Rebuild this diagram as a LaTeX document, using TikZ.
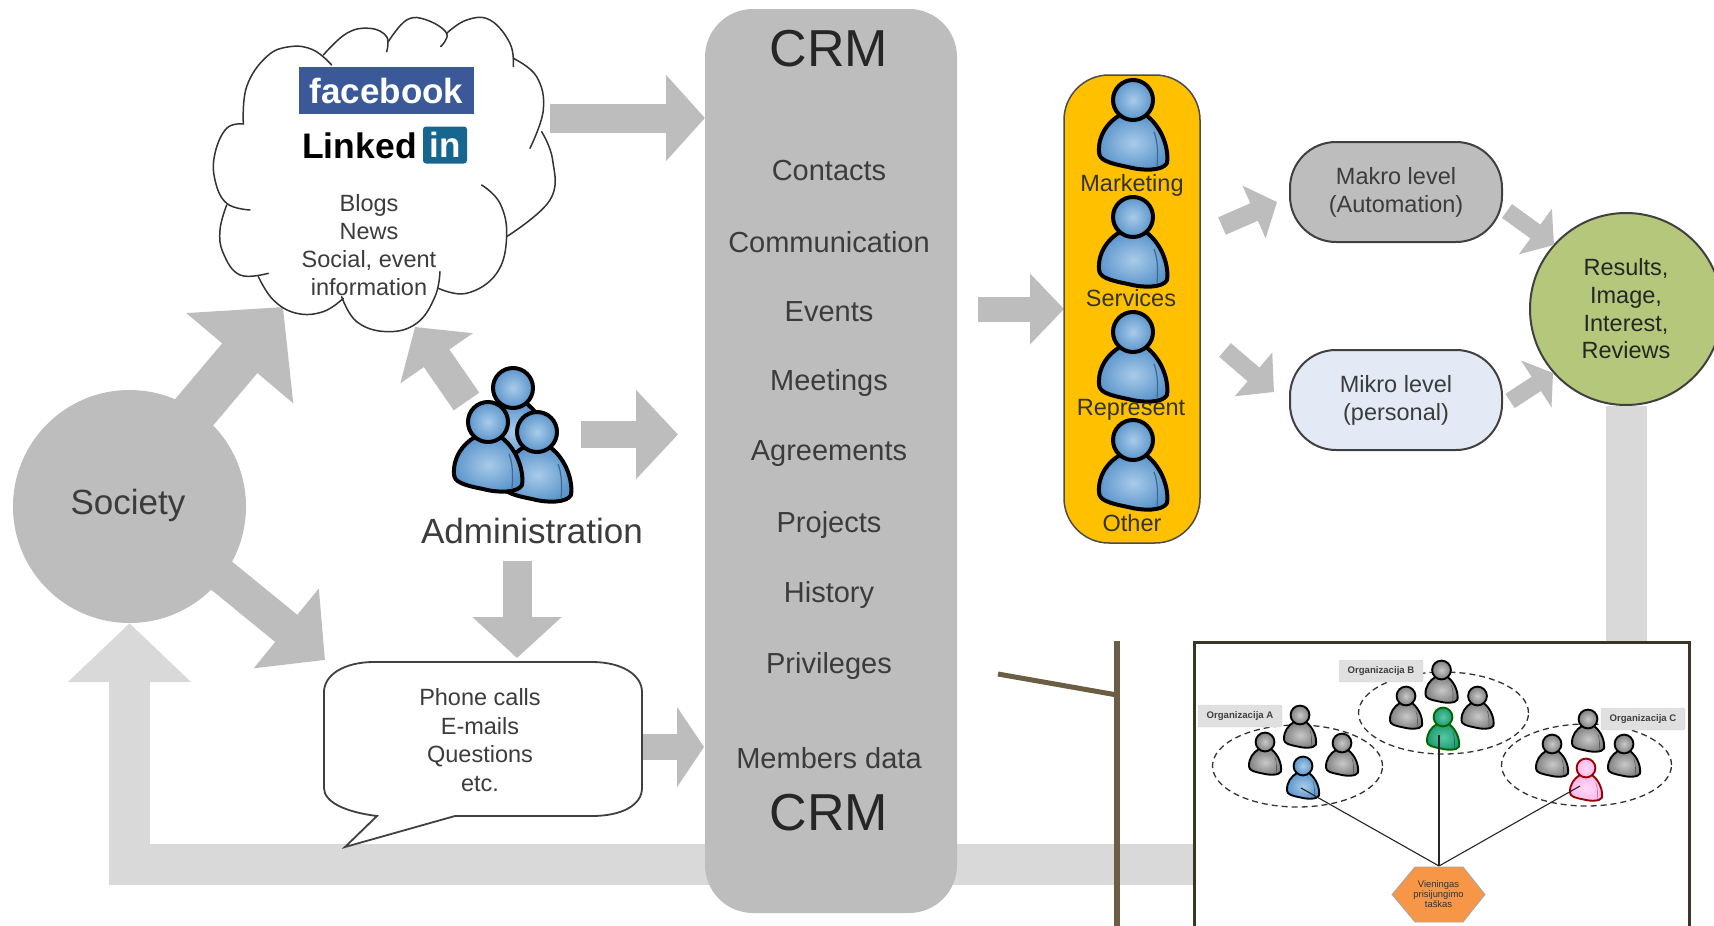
\documentclass[tikz,border=0pt]{standalone}
\usepackage{fontspec}
\setmainfont{Liberation Sans}
\usetikzlibrary{arrows.meta,shapes.geometric}
\definecolor{blockgray}{HTML}{BDBDBD}
\definecolor{bandgray}{HTML}{D9D9D9}
\definecolor{inktext}{HTML}{3C3C3C}
\definecolor{polebrown}{HTML}{6B5E45}
\definecolor{framedark}{HTML}{3A3528}
\definecolor{goldbox}{HTML}{FFC000}
\definecolor{resgreen}{HTML}{B5C77A}
\definecolor{mikroblue}{HTML}{E3EAF6}
\definecolor{fbblue}{HTML}{3B5998}
\definecolor{liblue}{HTML}{17668F}
\definecolor{bluelight}{HTML}{A9CBE9}
\definecolor{bluedark}{HTML}{5B95CC}
\definecolor{graylight}{HTML}{C9C9C9}
\definecolor{graydark}{HTML}{808080}
\definecolor{greenlight}{HTML}{55C9A5}
\definecolor{greendark}{HTML}{1F9A70}
\definecolor{pinklight}{HTML}{FFD9F7}
\definecolor{pinkdark}{HTML}{FBB8EC}
\definecolor{hexorange}{HTML}{F79646}
\tikzset{
  lbl/.style={inner sep=0pt,align=center,text=inktext,font=\fontsize{23.5}{28}\selectfont},
  crmitem/.style={inner sep=0pt,text=inktext,font=\fontsize{29}{29}\selectfont},
  crmtitle/.style={inner sep=0pt,text=black!85,font=\fontsize{52}{52}\selectfont},
  biglbl/.style={inner sep=0pt,text=inktext,font=\fontsize{35}{35}\selectfont},
  pillbox/.style={draw=black!75,line width=2pt,rounded corners=46pt,minimum width=212pt,minimum height=100pt,inner sep=0pt},
  cloudline/.style={draw=black!80,line width=1.5pt,line cap=round},
  orgring/.style={draw=black!80,line width=1.3pt,dash pattern=on 6pt off 4pt,ellipse,minimum width=170pt,minimum height=82pt,inner sep=0pt},
  orgtag/.style={fill=black!12,draw=black!30,densely dotted,rounded corners=2pt,minimum width=84pt,minimum height=22pt,inner sep=0pt,text=black!75,font=\bfseries\fontsize{9.6}{10}\selectfont},
  wire/.style={draw=black!85,line width=1.1pt},
}
\newcommand{\blockarrow}[6][blockgray]{\draw[#1,line width=#2pt,-{Triangle[length=#3pt,width=#4pt]}] (#5) -- (#6);}
% x, y (head centre), scale, light, dark, outline
\newcommand{\psn}[6]{%
  \begin{scope}[shift={(#1,#2)},scale=#3]
    \path[draw=#6,line width=#3*4pt,line join=round,inner color=#4,outer color=#5]
      (-13,15) .. controls (-25,22) and (-35,35) .. (-34,52)
      .. controls (-34,60) and (-25,63) .. (-5,67)
      .. controls (10,71) and (30,71) .. (34,63)
      .. controls (36,50) and (30,28) .. (13,15) -- cycle;
    \draw[#5!70!black,line width=#3*1.2pt] (21,32) .. controls (25,42) and (25,55) .. (24,66);
    \path[draw=#6,line width=#3*4pt,inner color=#4,outer color=#5] (0,0) circle[radius=20];
  \end{scope}}
\begin{document}
\begin{tikzpicture}[x=1pt,y=-1pt]
\useasboundingbox (0,0) rectangle (1714,926);
\clip (0,0) rectangle (1714,926);
\fill[white] (0,0) rectangle (1714,926);

% --- main nodes
\node[circle,fill=blockgray,minimum size=233pt,inner sep=0pt] (soc) at (129.5,506.5) {};
\node[circle,draw=black!75,line width=2pt,fill=resgreen,minimum size=192pt,inner sep=0pt,align=center,text=black!85,font=\fontsize{23.5}{27.7}\selectfont] (res) at (1626,309) {Results,\\Image,\\Interest,\\Reviews};
\coordinate (socbase) at (129.5,864);

% --- return band
\draw[bandgray,line width=41pt,line join=miter,-{Triangle[length=59pt,width=120pt]}] (res.south) |- (socbase) -- (soc.south);
\node[biglbl] (soclabel) at (128,505) {Society};

% --- block arrows
\coordinate (cloudout) at (550,118);   \coordinate (crmin1) at (705,118);
\coordinate (socup) at (175,435);      \coordinate (cloudin1) at (283,307);
\coordinate (socdown) at (200,558);    \coordinate (bubblein) at (325,660);
\coordinate (admup) at (466.5,401.5);  \coordinate (cloudin2) at (415,327);
\coordinate (admright) at (581,434.5); \coordinate (crmin2) at (678,434.5);
\coordinate (admdown) at (517,561);    \coordinate (bubbletop) at (517,658);
\coordinate (bubbleout) at (642,747);  \coordinate (crmin3) at (704,747);
\coordinate (crmout) at (978,309);     \coordinate (goldin) at (1064,309);
\coordinate (goldoutA) at (1222,226);  \coordinate (makin) at (1277,202);
\coordinate (goldoutB) at (1225,350);  \coordinate (mikin) at (1274,392);
\coordinate (makout) at (1507,211);    \coordinate (resinA) at (1554,245);
\coordinate (mikout) at (1510,401);    \coordinate (resinB) at (1553,373);

\blockarrow{29}{39}{84}{cloudout}{crmin1}
\blockarrow{46}{67}{136}{socup}{cloudin1}
\blockarrow{35}{50}{100}{socdown}{bubblein}
\blockarrow{31}{38}{86}{admup}{cloudin2}
\blockarrow{27}{42}{87}{admright}{crmin2}
\blockarrow{29}{41}{87}{admdown}{bubbletop}
\blockarrow{26}{27}{79}{bubbleout}{crmin3}
\blockarrow{25}{34}{69}{crmout}{goldin}
\blockarrow{19}{25}{56}{goldoutA}{makin}
\blockarrow{18}{27}{56}{goldoutB}{mikin}
\blockarrow{17}{23}{55}{makout}{resinA}
\blockarrow{17}{20}{55}{mikout}{resinB}

% --- CRM column
\node[fill=blockgray,rounded corners=48pt,minimum width=252pt,minimum height=904pt,inner sep=0pt] (crm) at (831,461) {};
\node[crmtitle] (crmtop) at (829,49) {CRM};
\node[crmtitle] (crmbot) at (829,813) {CRM};
\node[crmitem] (i1) at (829,171) {Contacts};
\node[crmitem] (i2) at (829,242) {Communication};
\node[crmitem] (i3) at (829,312) {Events};
\node[crmitem] (i4) at (829,383) {Meetings};
\node[crmitem] (i5) at (829,454) {Agreements};
\node[crmitem] (i6) at (829,525) {Projects};
\node[crmitem] (i7) at (829,595) {History};
\node[crmitem] (i8) at (829,666) {Privileges};
\node[crmitem] (i9) at (829,758) {Members data};

% --- cloud
\begin{scope}[shift={(190,0)},x=0.3333pt,y=-0.3333pt]
\draw[cloudline] plot[smooth,tension=.7] coordinates {(160,372) (170,260) (230,170) (300,140) (370,150) (425,195)};
\draw[cloudline] plot[smooth,tension=.7] coordinates {(400,165) (470,100) (540,85) (590,110) (590,155)};
\draw[cloudline] plot[smooth,tension=.7] coordinates {(595,125) (650,60) (710,60) (770,100) (752,140)};
\draw[cloudline] plot[smooth,tension=.7] coordinates {(770,100) (830,60) (900,60) (960,130) (970,200)};
\draw[cloudline] plot[smooth,tension=.7] coordinates {(970,175) (1040,230) (1060,330) (1020,445)};
\draw[cloudline] plot[smooth,tension=.7] coordinates {(1055,395) (1088,480) (1080,600) (950,710)};
\draw[cloudline] plot[smooth,tension=.7] coordinates {(875,555) (930,610) (950,710) (920,820) (830,880) (745,865)};
\draw[cloudline] plot[smooth,tension=.7] coordinates {(750,815) (735,890) (680,970) (590,995) (500,965) (455,890)};
\draw[cloudline] plot[smooth,tension=.7] coordinates {(460,895) (400,935) (320,940) (250,900) (205,830)};
\draw[cloudline] plot[smooth,tension=.7] coordinates {(235,820) (150,825) (100,760) (90,690) (110,615)};
\draw[cloudline] plot[smooth,tension=.7] coordinates {(180,630) (110,610) (75,540) (75,460) (110,385) (160,372)};
\end{scope}
\node[fill=fbblue,minimum width=175pt,minimum height=47pt,inner sep=0pt,text=white,font=\bfseries\fontsize{35}{35}\selectfont] (fb) at (386.5,90.5) {facebook};
\node[inner sep=0pt,text=black,font=\bfseries\fontsize{35.5}{35}\selectfont] (li) at (359.5,146) {Linked};
\node[fill=liblue,rounded corners=3pt,minimum width=44pt,minimum height=37pt,inner sep=0pt,text=white,font=\bfseries\fontsize{35}{30}\selectfont] (libox) at (445,145) {in};
\node[lbl] (cloudtxt) at (369,245.5) {Blogs\\News\\Social, event\\information};

% --- administration
\psn{513}{388}{1}{bluelight}{bluedark}{black}
\psn{537}{432}{1}{bluelight}{bluedark}{black}
\psn{488}{422}{1}{bluelight}{bluedark}{black}
\node[biglbl] (adm) at (532,531) {Administration};

% --- speech bubble
\draw[fill=white,draw=black!75,line width=1.8pt]
  (374,662) -- (592,662) .. controls (622,662) and (642,675) .. (642,692)
  -- (642,788) .. controls (642,805) and (622,816) .. (592,816)
  -- (455,816) -- (345,847) -- (377,816)
  .. controls (345,812) and (324,802) .. (324,788)
  -- (324,692) .. controls (324,675) and (344,662) .. (374,662) -- cycle;
\node[lbl,font=\fontsize{23.5}{28.4}\selectfont] (bubble) at (480,740) {Phone calls\\E-mails\\Questions\\etc.};

% --- gold column
\node[fill=goldbox,draw=black!70,line width=1.5pt,rounded corners=45pt,minimum width=136pt,minimum height=468pt,inner sep=0pt] (gold) at (1132,309) {};
\psn{1133}{100}{1}{bluelight}{bluedark}{black}
\psn{1133}{217}{1}{bluelight}{bluedark}{black}
\psn{1133}{332}{1}{bluelight}{bluedark}{black}
\psn{1133}{440}{1}{bluelight}{bluedark}{black}
\node[lbl,text=black!80] (g1) at (1132,185) {Marketing};
\node[lbl,text=black!80] (g2) at (1131,298) {Services};
\node[lbl,text=black!80] (g3) at (1131,410) {Represent};
\node[lbl,text=black!80] (g4) at (1132,523) {Other};

% --- level boxes
\node[pillbox,fill=blockgray,lbl] (mak) at (1396,192) {Makro level\\(Automation)};
\node[pillbox,fill=mikroblue,lbl] (mik) at (1396,400) {Mikro level\\(personal)};

% --- pole
\coordinate (poletop) at (1117,641);
\coordinate (polebot) at (1117,926);
\coordinate (polejoin) at (1117,695);
\coordinate (poleend) at (998,674);
\draw[polebrown,line width=6pt] (poletop) -- (polebot);
\draw[polebrown,line width=5pt] (poleend) -- (polejoin);

% --- inset
\node[draw=framedark,fill=white,line width=3pt,minimum width=495pt,minimum height=330pt,inner sep=0pt,anchor=north west] (inset) at (1192.5,641) {};
\node[orgring] (ringA) at (1297.5,766) {};
\node[orgring] (ringB) at (1443.5,713) {};
\node[orgring] (ringC) at (1586.5,765) {};
\node[orgtag] (tagA) at (1240,716) {Organizacija A};
\node[orgtag] (tagB) at (1381,671) {Organizacija B};
\node[orgtag] (tagC) at (1643,719) {Organizacija C};
\psn{1300}{715}{.47}{graylight}{graydark}{black}
\psn{1265}{742}{.47}{graylight}{graydark}{black}
\psn{1342}{743}{.47}{graylight}{graydark}{black}
\psn{1303}{766}{.47}{bluelight}{bluedark}{black}
\psn{1441.5}{670}{.47}{graylight}{graydark}{black}
\psn{1406}{696}{.47}{graylight}{graydark}{black}
\psn{1477.5}{696}{.47}{graylight}{graydark}{black}
\psn{1443}{717}{.47}{greenlight}{greendark}{green!40!black}
\psn{1588}{719}{.47}{graylight}{graydark}{black}
\psn{1552}{744}{.47}{graylight}{graydark}{black}
\psn{1624}{744}{.47}{graylight}{graydark}{black}
\psn{1586}{768}{.47}{pinklight}{pinkdark}{red!60!black}
\coordinate (connA) at (1301,788);
\coordinate (connB) at (1439,735);
\coordinate (connC) at (1580,786);
\coordinate (hextop) at (1439,866);
\draw[wire] (hextop) -- (connA);
\draw[wire] (hextop) -- (connB);
\draw[wire] (hextop) -- (connC);
\draw[fill=hexorange,draw=black!35,line width=.8pt]
  (1415,867) -- (1463,867) -- (1485,894.5) -- (1463,922) -- (1415,922) -- (1392,894.5) -- cycle;
\node[inner sep=0pt,align=center,text=black!80,font=\fontsize{9.4}{10}\selectfont] (hex) at (1438.5,894) {Vieningas\\prisijungimo\\taškas};
\end{tikzpicture}
\end{document}
